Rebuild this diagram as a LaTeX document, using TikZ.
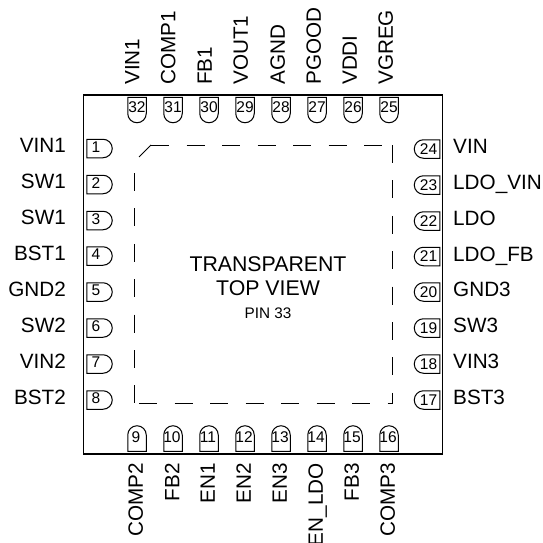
\documentclass[tikz,border=0pt]{standalone}
\usepackage{fontspec}
\setmainfont{Liberation Sans}
\usetikzlibrary{shapes.misc}
\tikzset{
  pinnum/.style={font=\fontsize{15.5pt}{15.5pt}\selectfont,inner sep=0pt},
  pinbody/.style={draw,line width=1pt,rounded rectangle,minimum width=25.5pt,minimum height=18.5pt,inner sep=0pt},
  pinleft/.style={pinbody,rounded rectangle west arc=none,label={[pinnum,xshift=-3.5pt,yshift=1.5pt]center:#1}},
  pinright/.style={pinbody,rounded rectangle east arc=none,label={[pinnum,xshift=1.5pt]center:#1}},
  pintop/.style={pinbody,rotate=-90,rounded rectangle west arc=none,label={[pinnum,yshift=3pt]center:#1}},
  pinbot/.style={pinbody,rotate=90,rounded rectangle west arc=none,label={[pinnum,xshift=-1pt,yshift=1pt]center:#1}},
  signal/.style={font=\fontsize{20.7pt}{20.7pt}\selectfont,inner sep=0pt,text height=14.8pt,text depth=0pt},
  padline/.style={line width=1pt,dash pattern=on 18pt off 17.5pt}
}
\begin{document}
\begin{tikzpicture}[x=1pt,y=-1pt]
  \useasboundingbox (0,0) rectangle (543,543);

  \node [draw,line width=1.5pt,minimum width=359pt,minimum height=359pt,inner sep=0pt] (chip) at (263,274.5) {};

  % left side
  \node [pinleft=1] (pin_1) at (99.5,148.5) {}; \node [signal,anchor=east] (sig_1) at (66,145) {VIN1};
  \node [pinleft=2] (pin_2) at (99.5,184.5) {}; \node [signal,anchor=east] (sig_2) at (66,181) {SW1};
  \node [pinleft=3] (pin_3) at (99.5,220.5) {}; \node [signal,anchor=east] (sig_3) at (66,217) {SW1};
  \node [pinleft=4] (pin_4) at (99.5,256) {}; \node [signal,anchor=east] (sig_4) at (66,253) {BST1};
  \node [pinleft=5] (pin_5) at (99.5,292) {}; \node [signal,anchor=east] (sig_5) at (66,289) {GND2};
  \node [pinleft=6] (pin_6) at (99.5,328) {}; \node [signal,anchor=east] (sig_6) at (66,325) {SW2};
  \node [pinleft=7] (pin_7) at (99.5,364) {}; \node [signal,anchor=east] (sig_7) at (66,361) {VIN2};
  \node [pinleft=8] (pin_8) at (99.5,400) {}; \node [signal,anchor=east] (sig_8) at (66,397) {BST2};

  % bottom side
  \node [pinbot=9] (pin_9) at (137,438.5) {}; \node [signal,rotate=90,anchor=east] (sig_9) at (135.5,463) {COMP2};
  \node [pinbot=10] (pin_10) at (173,438.5) {}; \node [signal,rotate=90,anchor=east] (sig_10) at (172,463) {FB2};
  \node [pinbot=11] (pin_11) at (209,438.5) {}; \node [signal,rotate=90,anchor=east] (sig_11) at (207.5,463) {EN1};
  \node [pinbot=12] (pin_12) at (245,438.5) {}; \node [signal,rotate=90,anchor=east] (sig_12) at (243.5,463) {EN2};
  \node [pinbot=13] (pin_13) at (281,438.5) {}; \node [signal,rotate=90,anchor=east] (sig_13) at (279.5,463) {EN3};
  \node [pinbot=14] (pin_14) at (317,438.5) {}; \node [signal,rotate=90,anchor=east] (sig_14) at (315.5,463) {EN\_LDO};
  \node [pinbot=15] (pin_15) at (353,438.5) {}; \node [signal,rotate=90,anchor=east] (sig_15) at (351.5,463) {FB3};
  \node [pinbot=16] (pin_16) at (389,438.5) {}; \node [signal,rotate=90,anchor=east] (sig_16) at (387.5,463) {COMP3};

  % right side
  \node [pinright=17] (pin_17) at (427,400) {}; \node [signal,anchor=west] (sig_17) at (453,397) {BST3};
  \node [pinright=18] (pin_18) at (427,364) {}; \node [signal,anchor=west] (sig_18) at (453,361) {VIN3};
  \node [pinright=19] (pin_19) at (427,328) {}; \node [signal,anchor=west] (sig_19) at (453,325) {SW3};
  \node [pinright=20] (pin_20) at (427,292) {}; \node [signal,anchor=west] (sig_20) at (453,289) {GND3};
  \node [pinright=21] (pin_21) at (427,256.5) {}; \node [signal,anchor=west] (sig_21) at (453,254) {LDO\_FB};
  \node [pinright=22] (pin_22) at (427,221) {}; \node [signal,anchor=west] (sig_22) at (453,218) {LDO};
  \node [pinright=23] (pin_23) at (427,185) {}; \node [signal,anchor=west] (sig_23) at (453,182) {LDO\_VIN};
  \node [pinright=24] (pin_24) at (427,149) {}; \node [signal,anchor=west] (sig_24) at (453,146) {VIN};

  % top side
  \node [pintop=25] (pin_25) at (389,110) {}; \node [signal,rotate=90,anchor=west] (sig_25) at (385.5,85) {VGREG};
  \node [pintop=26] (pin_26) at (353,110) {}; \node [signal,rotate=90,anchor=west] (sig_26) at (349.5,85) {VDDI};
  \node [pintop=27] (pin_27) at (317,110) {}; \node [signal,rotate=90,anchor=west] (sig_27) at (313.5,85) {PGOOD};
  \node [pintop=28] (pin_28) at (281,110) {}; \node [signal,rotate=90,anchor=west] (sig_28) at (277.5,85) {AGND};
  \node [pintop=29] (pin_29) at (245,110) {}; \node [signal,rotate=90,anchor=west] (sig_29) at (240.5,85) {VOUT1};
  \node [pintop=30] (pin_30) at (209,110) {}; \node [signal,rotate=90,anchor=west] (sig_30) at (204.5,85) {FB1};
  \node [pintop=31] (pin_31) at (173,110) {}; \node [signal,rotate=90,anchor=west] (sig_31) at (168,85) {COMP1};
  \node [pintop=32] (pin_32) at (137,110) {}; \node [signal,rotate=90,anchor=west] (sig_32) at (132,85) {VIN1};

  % exposed pad outline
  \coordinate (pad_nw) at (151,145);
  \coordinate (pad_cut) at (139,157);
  \coordinate (pad_ne) at (383,145);
  \coordinate (pad_rt) at (392.7,145);
  \coordinate (pad_se) at (392.7,404);
  \coordinate (pad_bt) at (393,403.7);
  \coordinate (pad_bl) at (139,403.7);
  \coordinate (pad_lf) at (134,173);
  \coordinate (pad_sw) at (134,403);

  \draw [line width=1pt] (pad_cut) -- (pad_nw);
  \draw [padline] (pad_nw) -- (pad_ne);
  \draw [padline,dash pattern=on 18pt off 17.4pt] (pad_rt) -- (pad_se);
  \draw [padline] (pad_bl) -- (pad_bt);
  \draw [padline,dash pattern=on 18pt off 17.4pt] (pad_lf) -- (pad_sw);

  \node [font=\fontsize{21.3pt}{21.3pt}\selectfont,inner sep=0pt] (title_1) at (268,264) {TRANSPARENT};
  \node [font=\fontsize{21.3pt}{21.3pt}\selectfont,inner sep=0pt] (title_2) at (268,288) {TOP VIEW};
  \node [font=\fontsize{15.3pt}{15.3pt}\selectfont,inner sep=0pt] (title_3) at (268,313) {PIN 33};
\end{tikzpicture}
\end{document}
